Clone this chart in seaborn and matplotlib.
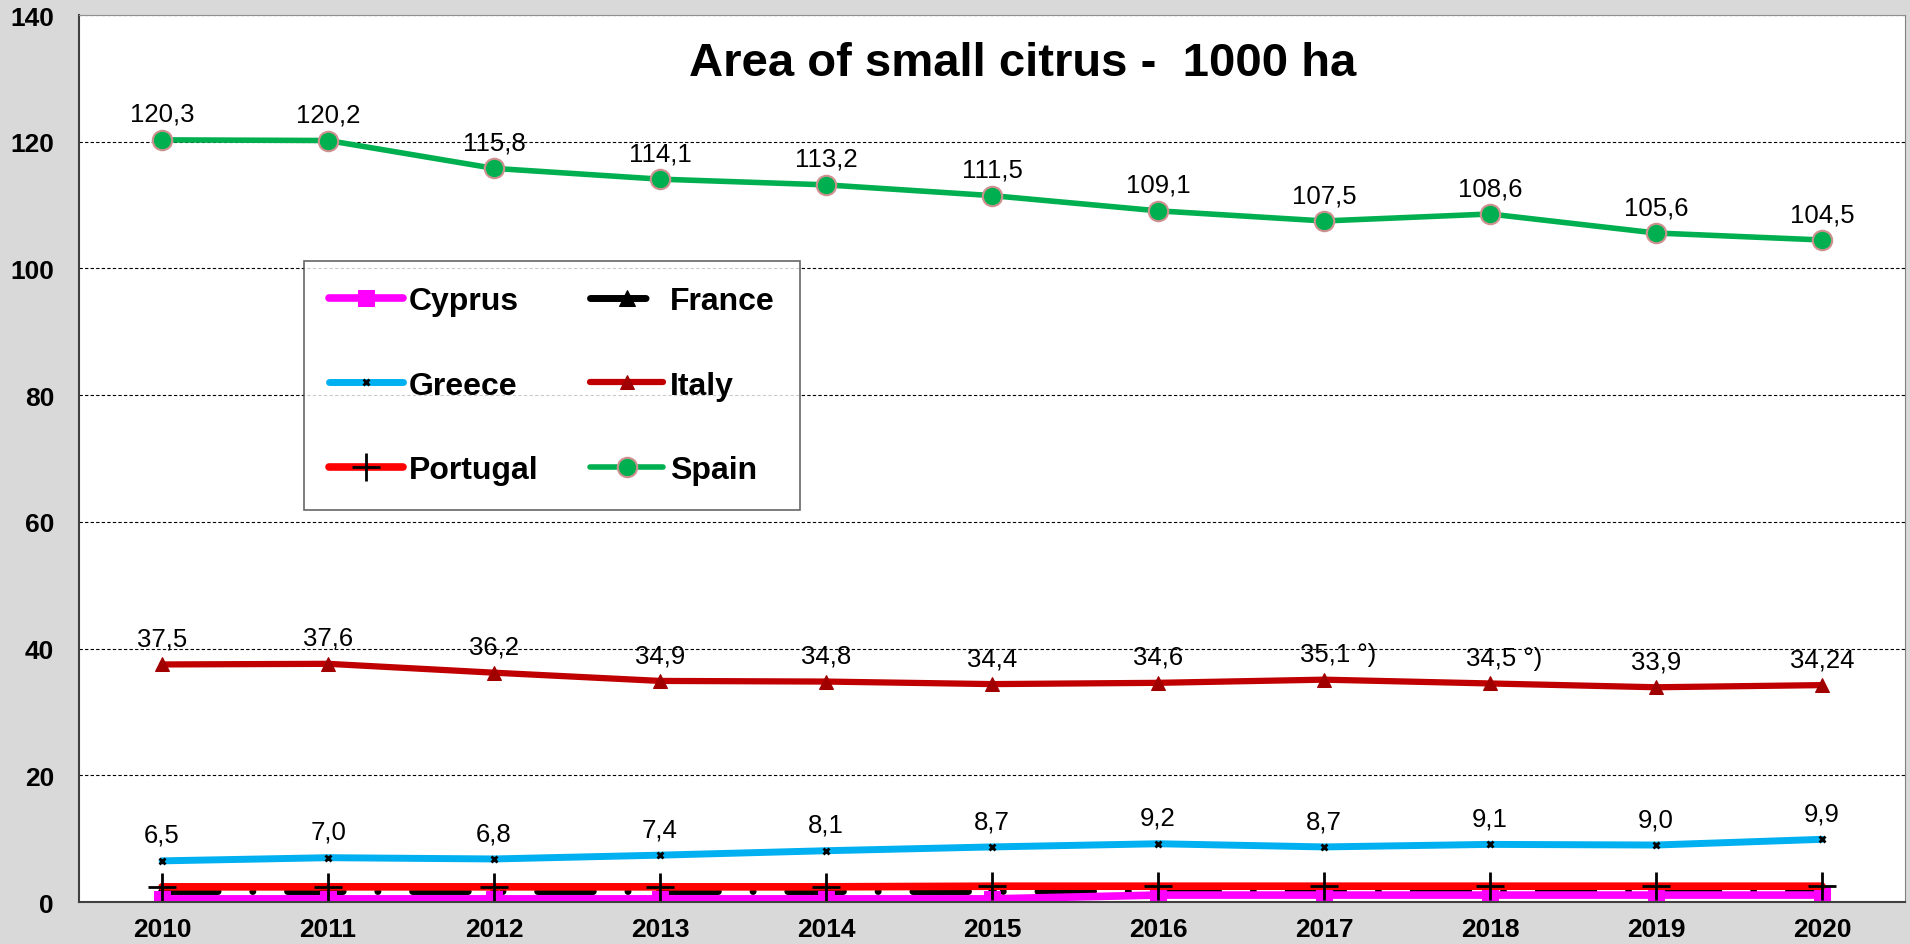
import seaborn as sns
import matplotlib.pyplot as plt
import pandas as pd

sns.set_style('white')
plt.rcParams['font.family'] = ['Liberation Sans', 'DejaVu Sans']
plt.rcParams['text.color'] = 'black'
plt.rcParams['xtick.color'] = 'black'
plt.rcParams['ytick.color'] = 'black'

years = [2010, 2011, 2012, 2013, 2014, 2015, 2016, 2017, 2018, 2019, 2020]
spain = [120.3, 120.2, 115.8, 114.1, 113.2, 111.5, 109.1, 107.5, 108.6, 105.6, 104.5]
italy = [37.5, 37.6, 36.2, 34.9, 34.8, 34.4, 34.6, 35.1, 34.5, 33.9, 34.24]
greece = [6.5, 7.0, 6.8, 7.4, 8.1, 8.7, 9.2, 8.7, 9.1, 9.0, 9.9]
portugal = [2.4, 2.4, 2.4, 2.4, 2.4, 2.5, 2.5, 2.5, 2.5, 2.5, 2.5]
france = [1.7, 1.7, 1.7, 1.7, 1.7, 1.7, 1.7, 1.7, 1.7, 1.7, 1.7]
cyprus = [0.5, 0.5, 0.5, 0.5, 0.5, 0.5, 1.1, 1.1, 1.1, 1.1, 1.1]

spain_lbl = ['120,3', '120,2', '115,8', '114,1', '113,2', '111,5', '109,1', '107,5', '108,6', '105,6', '104,5']
italy_lbl = ['37,5', '37,6', '36,2', '34,9', '34,8', '34,4', '34,6', '35,1 °)', '34,5 °)', '33,9', '34,24']
greece_lbl = ['6,5', '7,0', '6,8', '7,4', '8,1', '8,7', '9,2', '8,7', '9,1', '9,0', '9,9']

fig = plt.figure(figsize=(19.1, 9.45), dpi=100, facecolor='#d9d9d9')
ax = fig.add_axes([0.0414, 0.0444, 0.956, 0.9386])
ax.set_facecolor('white')

# France: thick dash-dot black line with round caps
sns.lineplot(x=years, y=france, ax=ax, color='black', linewidth=5, linestyle=(0, (8, 5, 0.01, 5)),
             dash_capstyle='round', marker='^', markersize=12, markeredgecolor='black', label='France')
sns.lineplot(x=years, y=cyprus, ax=ax, color='#ff00ff', linewidth=5.5, marker='s', markersize=11,
             markeredgecolor='#ff00ff', label='Cyprus')
sns.lineplot(x=years, y=portugal, ax=ax, color='#ff0000', linewidth=5.5, marker='+', markersize=20,
             markeredgecolor='black', markeredgewidth=2, label='Portugal')
sns.lineplot(x=years, y=greece, ax=ax, color='#00b0f0', linewidth=5, marker='x', markersize=5,
             markeredgecolor='black', markeredgewidth=2, label='Greece')
sns.lineplot(x=years, y=italy, ax=ax, color='#c00000', linewidth=4.5, marker='^', markersize=10,
             markeredgecolor='#a00000', markerfacecolor='#a00000', label='Italy')
sns.lineplot(x=years, y=spain, ax=ax, color='#00b050', linewidth=4, marker='o', markersize=14,
             markeredgecolor='#d09090', markeredgewidth=1.5, label='Spain')

for vals, lbls in [(spain, spain_lbl), (italy, italy_lbl), (greece, greece_lbl)]:
    for x, y, t in zip(years, vals, lbls):
        ha = 'left' if '°' in t else 'center'
        dx = -17 if '°' in t else 0
        ax.annotate(t, (x, y), xytext=(dx, 10), textcoords='offset points', ha=ha, va='bottom',
                    fontsize=18.5, color='black')

ax.set_xlim(2009.5, 2020.5)
ax.set_ylim(0, 140)
ax.set_yticks(range(0, 141, 20))
ax.set_xticks(years)
ax.set_xticks([y + 0.5 for y in years[:-1]] + [2009.5, 2020.5], minor=True)
ax.tick_params(axis='x', which='major', length=0, pad=11, labelsize=19)
ax.tick_params(axis='x', which='minor', length=7, width=1.2, color='#404040', direction='out')
ax.tick_params(axis='y', length=8, width=1, direction='out', labelsize=19, pad=10)
for lab in ax.get_xticklabels() + ax.get_yticklabels():
    lab.set_fontweight('bold')

ax.grid(axis='y', color='black', linestyle=(0, (3, 2)), linewidth=0.8)
ax.grid(axis='x', visible=False)
ax.set_axisbelow(True)
for s in ['left', 'bottom']:
    ax.spines[s].set_color('#404040')
    ax.spines[s].set_linewidth(1.5)
ax.spines['right'].set_color('#808080')
ax.spines['top'].set_color('#909090')
ax.spines['top'].set_linestyle((0, (2, 1)))

ax.text(0.517, 0.946, 'Area of small citrus -  1000 ha', transform=ax.transAxes,
        fontsize=34, fontweight='bold', ha='center', va='center', color='black')
ax.set_xlabel('')
ax.set_ylabel('')

h, l = ax.get_legend_handles_labels()
order = ['Cyprus', 'Greece', 'Portugal', 'France', 'Italy', 'Spain']
hd = dict(zip(l, h))
leg = ax.legend([hd[k] for k in order], order, ncol=2, loc='upper left',
                bbox_to_anchor=(0.123, 0.723), borderaxespad=0, frameon=True, fancybox=False,
                edgecolor='#404040', prop={'weight': 'bold', 'size': 23}, labelspacing=1.7,
                handlelength=2.3, handletextpad=0.2, columnspacing=1.6, borderpad=0.8)
leg.get_frame().set_linewidth(1.2)
for t in leg.get_texts():
    t.set_color('black')

fig.savefig('out.png', dpi=100, facecolor=fig.get_facecolor())
